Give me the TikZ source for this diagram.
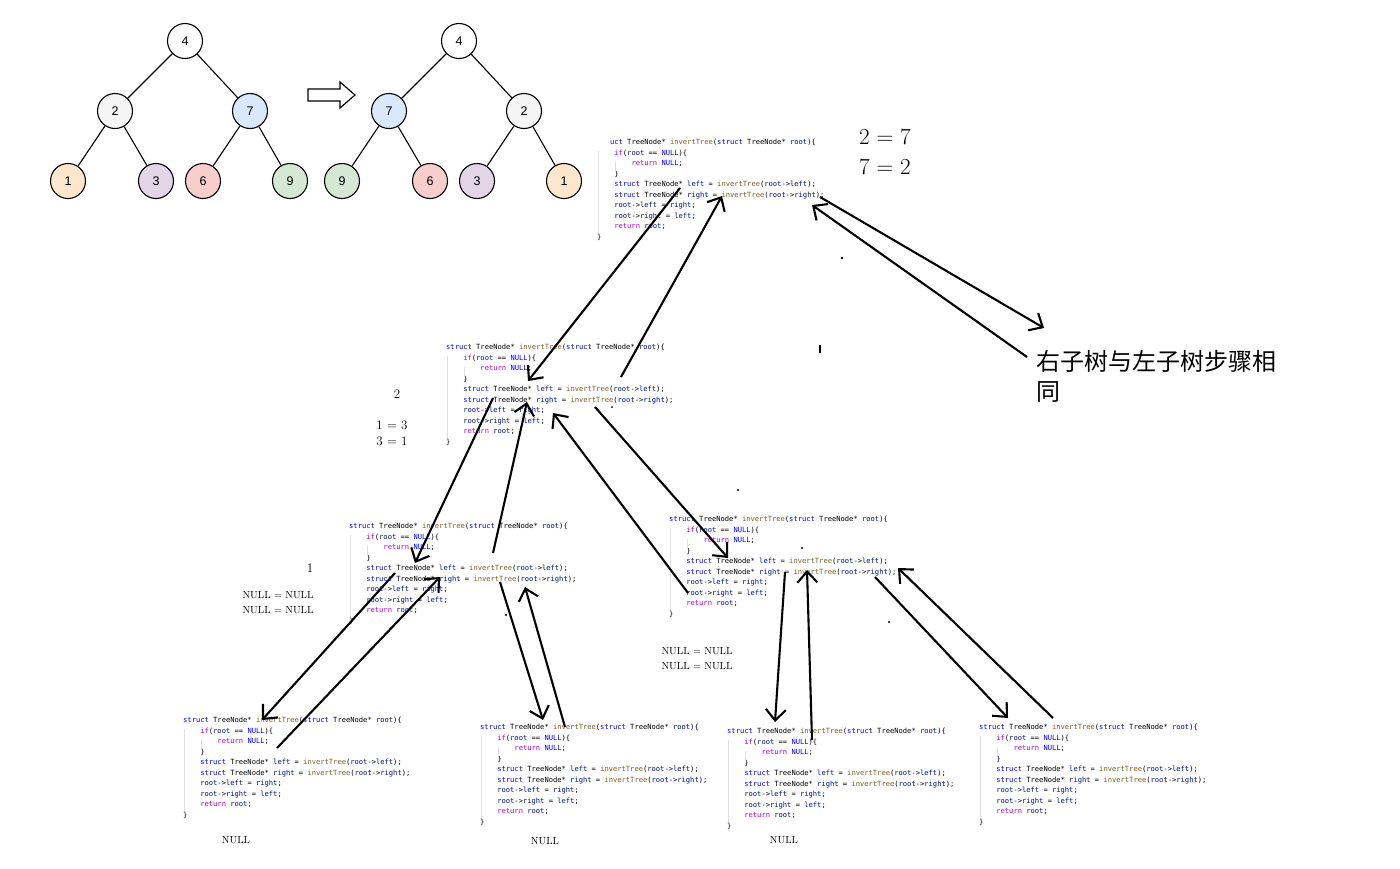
\documentclass[tikz,border=0pt]{standalone}
\usepackage{fontspec}
\usepackage{tikz}
\usetikzlibrary{arrows.meta,calc}

\newfontfamily\codeff{DejaVu Sans Mono}
\newfontfamily\treeff{Liberation Sans}
\newfontfamily\cjk{Noto Sans CJK SC}

\definecolor{kwblue}{HTML}{0000FF}
\definecolor{ctlpurple}{HTML}{AF00DB}
\definecolor{fnbrown}{HTML}{795E26}
\definecolor{varnavy}{HTML}{001080}
\definecolor{cgray}{HTML}{F5F5F5}
\definecolor{cblue}{HTML}{DAE8FC}
\definecolor{corange}{HTML}{FFE6CC}
\definecolor{cpurple}{HTML}{E1D5E7}
\definecolor{cred}{HTML}{F8CECC}
\definecolor{cgreen}{HTML}{D5E8D4}

\newcommand\kw[1]{\textcolor{kwblue}{#1}}
\newcommand\ctl[1]{\textcolor{ctlpurple}{#1}}
\newcommand\fn[1]{\textcolor{fnbrown}{#1}}
\newcommand\vr[1]{\textcolor{varnavy}{#1}}
\newcommand\ind{\hphantom{xxxx}}

% the recursive function, #1 = first word
\newcommand\invcode[1]{%
\kw{#1} TreeNode* \fn{invertTree}(\kw{struct} TreeNode* \vr{root})\{\\
\ind\ctl{if}(\vr{root} == \kw{NULL})\{\\
\ind\ind\ctl{return} \kw{NULL};\\
\ind\}\\
\ind\kw{struct} TreeNode* \vr{left} = \fn{invertTree}(\vr{root}->\vr{left});\\
\ind\kw{struct} TreeNode* \vr{right} = \fn{invertTree}(\vr{root}->\vr{right});\\
\ind\vr{root}->\vr{left} = \vr{right};\\
\ind\vr{root}->\vr{right} = \vr{left};\\
\ind\ctl{return} \vr{root};\\
\}}

\newcommand\codeblk[3]{%
\node[code] (#1) at (#2) {\invcode{#3}};
\draw[guide] ($(#1.north west)+(1,12)$) -- ($(#1.north west)+(1,94)$);
\draw[guide] ($(#1.north west)+(18,23)$) -- ($(#1.north west)+(18,33)$);
}

\tikzset{
  tnode/.style={circle, draw, line width=1.1pt, minimum size=35pt, inner sep=0pt,
    font=\treeff\fontsize{12.5pt}{14pt}\selectfont},
  code/.style={anchor=north west, inner sep=0pt, align=left,
    font=\fontsize{7.12pt}{10.5pt}\selectfont\codeff},
  guide/.style={gray!25, line width=0.6pt},
  pen/.style={line width=2.1pt, -{Straight Barb[length=11pt,width=20pt]}},
  lbl big/.style={inner sep=0pt, font=\fontsize{23pt}{26pt}\selectfont},
  lbl mid/.style={inner sep=0pt, font=\fontsize{13pt}{15pt}\selectfont},
  lbl small/.style={inner sep=0pt, font=\fontsize{10.2pt}{12pt}\selectfont},
}

\begin{document}
\begin{tikzpicture}[x=1pt, y=-1pt]

\fill[white] (0,0) rectangle (1400,868);
\useasboundingbox (0,0) rectangle (1400,868);

% tree before
\node[tnode] (l4) at (185,41) {4};
\node[tnode, fill=cgray] (l2) at (115,111) {2};
\node[tnode, fill=cblue] (l7) at (250,111) {7};
\node[tnode, fill=corange] (l1) at (68,181) {1};
\node[tnode, fill=cpurple] (l3) at (156,181) {3};
\node[tnode, fill=cred] (l6) at (203,181) {6};
\node[tnode, fill=cgreen] (l9) at (290,181) {9};
\draw[line width=1.1pt] (l4) -- (l2) (l4) -- (l7) (l2) -- (l1) (l2) -- (l3) (l7) -- (l6) (l7) -- (l9);

\draw[line width=1.2pt] (308,89) -- (340,89) -- (340,82) -- (355,95) -- (340,108) -- (340,101) -- (308,101) -- cycle;

% tree after
\node[tnode] (r4) at (459,41) {4};
\node[tnode, fill=cblue] (r7) at (389,111) {7};
\node[tnode, fill=cgray] (r2) at (524,111) {2};
\node[tnode, fill=cgreen] (r9) at (342,181) {9};
\node[tnode, fill=cred] (r6) at (430,181) {6};
\node[tnode, fill=cpurple] (r3) at (477,181) {3};
\node[tnode, fill=corange] (r1) at (564,181) {1};
\draw[line width=1.1pt] (r4) -- (r7) (r4) -- (r2) (r7) -- (r9) (r7) -- (r6) (r2) -- (r3) (r2) -- (r1);

% the calls
\codeblk{cA}{597,139}{\hphantom{str}uct}
\codeblk{cB}{446,344}{struct}
\codeblk{cC}{349,523}{struct}
\codeblk{cD}{669,516}{struct}
\codeblk{cE}{183,717}{struct}
\codeblk{cF}{480,724}{struct}
\codeblk{cG}{727,728}{struct}
\codeblk{cH}{979,724}{struct}

\node[lbl big] (eq27) at (885,137) {2 = 7};
\node[lbl big] (eq72) at (885,167) {7 = 2};
\node[lbl mid] (dep2) at (397,394) {2};
\node[lbl mid] (eq13) at (392,425) {1 = 3};
\node[lbl mid] (eq31) at (392,441) {3 = 1};
\node[lbl mid] (dep1) at (310,568) {1};
\node[lbl small] (nnC1) at (278,595) {NULL = NULL};
\node[lbl small] (nnC2) at (278,610) {NULL = NULL};
\node[lbl small] (nnD1) at (697,651) {NULL = NULL};
\node[lbl small] (nnD2) at (697,666) {NULL = NULL};
\node[lbl small] (nullE) at (236,840) {NULL};
\node[lbl small] (nullF) at (545,841) {NULL};
\node[lbl small] (nullG) at (784,840) {NULL};

\node[anchor=north west, inner sep=0pt, align=left, font=\cjk\fontsize{24pt}{30pt}\selectfont] (note) at (1036,350) {右子树与左子树步骤相\\同};

% hand drawn arrows
\draw[pen] ($(cA.north west)+(83,49)$) -- ($(cB.north west)+(82,37)$);
\draw[pen] ($(cB.north west)+(175,33)$) -- ($(cA.north west)+(125,57)$);
\draw[pen] ($(cA.north west)+(223,58)$) -- ($(note.north west)+(8,-22)$);
\draw[pen] ($(note.north west)+(-9,7)$) -- ($(cA.north west)+(215,66)$);

\draw[pen] ($(cB.north west)+(47,54)$) -- ($(cC.north west)+(66,40)$);
\draw[pen] ($(cC.north west)+(144,30)$) -- ($(cB.north west)+(81,58)$);
\draw[pen] ($(cB.north west)+(149,63)$) -- ($(cD.north west)+(59,42)$);
\draw[pen] ($(cD.north west)+(19,77)$) -- ($(cB.north west)+(107,69)$);

\draw[pen] ($(cC.north west)+(46,50)$) -- ($(cE.north west)+(79,3)$);
\draw[pen] ($(cE.north west)+(94,31)$) -- ($(cC.north west)+(91,54)$);
\draw[pen] ($(cC.north west)+(151,59)$) -- ($(cF.north west)+(63,-4)$);
\draw[pen] ($(cF.north west)+(85,3)$) -- ($(cC.north west)+(176,64)$);

\draw[pen] ($(cD.north west)+(116,56)$) -- ($(cG.north west)+(48,-6)$);
\draw[pen] ($(cG.north west)+(85,12)$) -- ($(cD.north west)+(138,54)$);
\draw[pen] ($(cD.north west)+(206,61)$) -- ($(cH.north west)+(29,-6)$);
\draw[pen] ($(cH.north west)+(74,-6)$) -- ($(cD.north west)+(229,52)$);

% stray marks
\fill (842,258) circle (1.3pt);
\fill (818.5,345) rectangle (821,353);
\fill (738,490) circle (1.2pt);
\fill (802,548) circle (1.2pt);
\fill (612,407) circle (1pt);
\fill (506,615) circle (1.2pt);
\fill (889,622) circle (1.2pt);

\end{tikzpicture}
\end{document}
